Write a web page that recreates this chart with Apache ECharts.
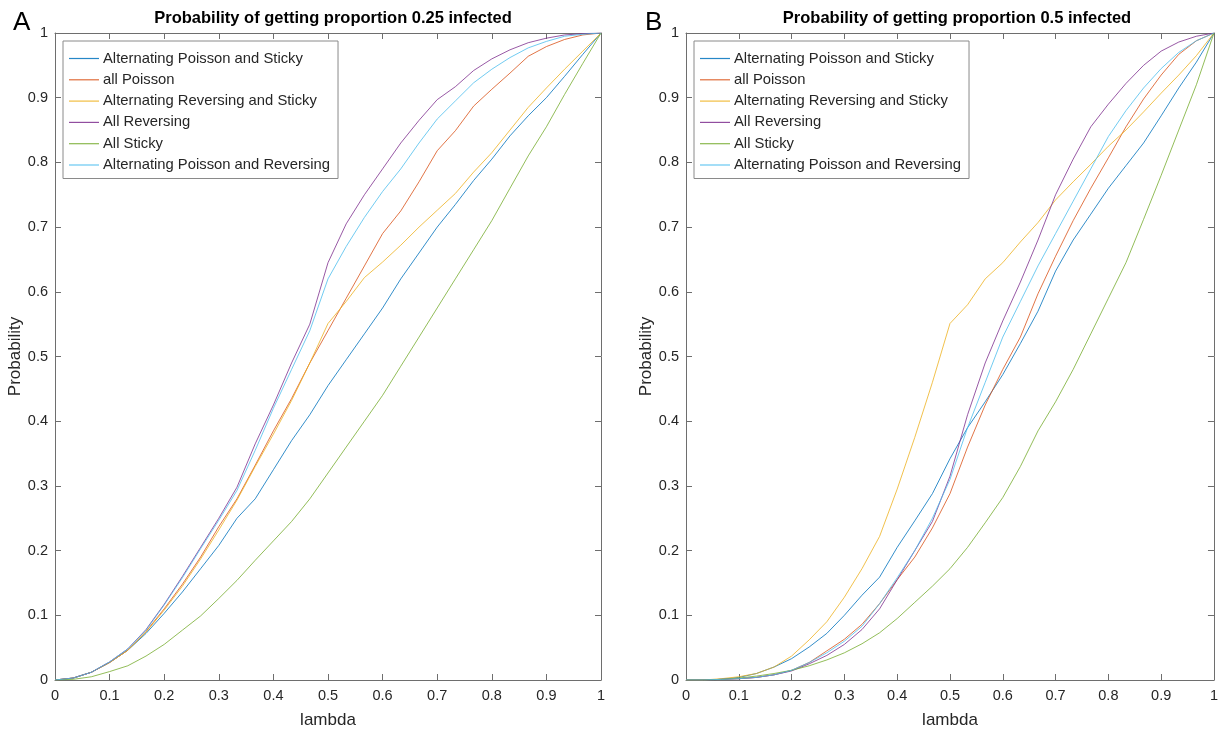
<!DOCTYPE html>
<html><head><meta charset="utf-8">
<script src="https://cdn.jsdelivr.net/npm/echarts@6/dist/echarts.min.js"></script>
<style>html,body{margin:0;padding:0;background:#fff}#c{width:1221px;height:734px}</style>
</head><body><div id="c"></div>
<script>
const lambda = [0,0.0333,0.0667,0.1,0.1333,0.1667,0.2,0.2333,0.2667,0.3,0.3333,0.3667,0.4,0.4333,0.4667,0.5,0.5333,0.5667,0.6,0.6333,0.6667,0.7,0.7333,0.7667,0.8,0.8333,0.8667,0.9,0.9333,0.9667,1];
const seriesNames = ['Alternating Poisson and Sticky','all Poisson','Alternating Reversing and Sticky','All Reversing','All Sticky','Alternating Poisson and Reversing'];
const colors = ['#0072BD','#D95319','#EDB120','#7E2F8E','#77AC30','#4DBEEE'];
const titlesAB = ['Probability of getting proportion 0.25 infected','Probability of getting proportion 0.5 infected'];
const panelLetters = ['A','B'];

// Panel A (proportion 0.25)
const A_altPoissonSticky = [0,0.003,0.012,0.027,0.046,0.072,0.103,0.136,0.172,0.208,0.25,0.28,0.325,0.37,0.41,0.455,0.495,0.535,0.575,0.62,0.66,0.7,0.735,0.772,0.805,0.841,0.872,0.9,0.933,0.967,1];
const A_allPoisson = [0,0.003,0.012,0.027,0.046,0.075,0.11,0.148,0.19,0.237,0.28,0.332,0.385,0.435,0.49,0.54,0.59,0.64,0.69,0.725,0.77,0.818,0.849,0.887,0.913,0.938,0.964,0.979,0.99,0.997,1];
const A_altRevSticky = [0,0.003,0.012,0.027,0.046,0.074,0.108,0.145,0.187,0.232,0.278,0.33,0.38,0.432,0.49,0.551,0.585,0.622,0.646,0.672,0.7,0.726,0.752,0.785,0.815,0.85,0.885,0.915,0.944,0.972,1];
const A_allRev = [0,0.003,0.012,0.028,0.048,0.078,0.117,0.16,0.205,0.25,0.298,0.365,0.425,0.49,0.55,0.645,0.705,0.75,0.79,0.83,0.865,0.897,0.917,0.942,0.96,0.974,0.985,0.992,0.997,0.999,1];
const A_allSticky = [0,0.001,0.005,0.013,0.022,0.037,0.055,0.077,0.099,0.126,0.154,0.185,0.215,0.245,0.28,0.32,0.36,0.4,0.44,0.485,0.53,0.575,0.62,0.665,0.71,0.76,0.81,0.855,0.905,0.953,1];
const A_altPoissonRev = [0,0.003,0.012,0.028,0.048,0.077,0.116,0.158,0.203,0.247,0.293,0.355,0.42,0.48,0.54,0.62,0.67,0.715,0.755,0.79,0.83,0.867,0.895,0.923,0.944,0.962,0.977,0.987,0.995,0.998,1];

// Panel B (proportion 0.5)
const B_altPoissonSticky = [0,0,0.001,0.004,0.01,0.02,0.033,0.051,0.072,0.1,0.131,0.159,0.205,0.246,0.288,0.342,0.39,0.43,0.472,0.52,0.57,0.632,0.68,0.72,0.76,0.795,0.83,0.872,0.915,0.955,1];
const B_allPoisson = [0,0,0.001,0.002,0.004,0.008,0.015,0.027,0.045,0.063,0.086,0.118,0.155,0.19,0.235,0.288,0.36,0.425,0.48,0.53,0.597,0.655,0.71,0.76,0.807,0.855,0.898,0.935,0.967,0.988,1];
const B_altRevSticky = [0,0,0.002,0.005,0.01,0.02,0.037,0.062,0.09,0.128,0.172,0.222,0.295,0.375,0.46,0.551,0.58,0.62,0.645,0.677,0.707,0.742,0.77,0.797,0.825,0.85,0.878,0.907,0.935,0.965,1];
const B_allRev = [0,0,0.001,0.002,0.004,0.008,0.014,0.025,0.038,0.055,0.078,0.11,0.155,0.2,0.245,0.315,0.41,0.49,0.555,0.615,0.68,0.75,0.805,0.855,0.89,0.922,0.95,0.972,0.986,0.995,1];
const B_allSticky = [0,0,0.001,0.003,0.006,0.01,0.015,0.022,0.031,0.042,0.056,0.073,0.095,0.12,0.145,0.172,0.205,0.243,0.282,0.33,0.385,0.43,0.48,0.535,0.59,0.645,0.712,0.78,0.85,0.92,1];
const B_altPoissonRev = [0,0,0.001,0.002,0.004,0.008,0.015,0.027,0.042,0.06,0.083,0.118,0.158,0.2,0.25,0.31,0.39,0.46,0.53,0.585,0.64,0.69,0.74,0.79,0.84,0.88,0.915,0.945,0.97,0.988,1];

const panelData = [
  [A_altPoissonSticky, A_allPoisson, A_altRevSticky, A_allRev, A_allSticky, A_altPoissonRev],
  [B_altPoissonSticky, B_allPoisson, B_altRevSticky, B_allRev, B_allSticky, B_altPoissonRev]
];

const FONT = 'Liberation Sans';
const axisColor = '#6e6e6e';
const textColor = '#262626';
const grids = [
  {left:55, top:33, width:546, height:653},
  {left:686, top:33, width:532, height:653}
];

const xAxes = [], yAxes = [], series = [], legends = [], titles = [];
grids.forEach((g, gi) => {
  const common = {type:'value', min:0, max:1, interval:0.1, gridIndex:gi,
    axisLine:{show:true, onZero:false, lineStyle:{color:axisColor, width:1}},
    axisTick:{show:true, inside:true, length:6, lineStyle:{color:axisColor}},
    splitLine:{show:false}};
  xAxes.push(Object.assign({}, common, {position:'bottom', name:'lambda', nameLocation:'middle', nameGap:32,
    nameTextStyle:{fontFamily:FONT, fontSize:17, color:textColor},
    axisLabel:{fontFamily:FONT, fontSize:14.5, color:textColor, margin:8}}));
  xAxes.push(Object.assign({}, common, {position:'top', axisLabel:{show:false}}));
  yAxes.push(Object.assign({}, common, {position:'left', name:'Probability', nameLocation:'middle', nameGap:29,
    nameTextStyle:{fontFamily:FONT, fontSize:17, color:textColor},
    axisLabel:{fontFamily:FONT, fontSize:14.5, color:textColor, margin:7}}));
  yAxes.push(Object.assign({}, common, {position:'right', axisLabel:{show:false}}));
  panelData[gi].forEach((vals, si) => {
    series.push({name:seriesNames[si], type:'line', xAxisIndex:gi*2, yAxisIndex:gi*2,
      symbol:'none', showSymbol:false, smooth:false, animation:false,
      lineStyle:{color:colors[si], width:1, opacity:0.8}, itemStyle:{color:colors[si]},
      data: lambda.map((x, i) => [x, vals[i]])});
  });
  legends.push({orient:'vertical', left: g.left + 8, top: 41,
    data: seriesNames.map((n, i) => ({name:n, icon:'rect',
      itemStyle:{color:colors[i], borderWidth:0, borderColor:'transparent', opacity:0.85}})),
    itemWidth:30, itemHeight:1.2, itemGap:6.3, padding:[10,8,6,6],
    itemStyle:{borderWidth:0},
    borderColor:'#8a8a8a', borderWidth:1, backgroundColor:'#fff',
    selectedMode:false,
    textStyle:{fontFamily:FONT, fontSize:14.8, lineHeight:15, color:textColor, padding:[0,0,0,-1]}});
  titles.push({text:titlesAB[gi], left: g.left + g.width/2, top: 5, textAlign:'center',
    textStyle:{fontFamily:FONT, fontSize:16.5, fontWeight:'bold', color:'#000'}});
  titles.push({text:panelLetters[gi], left: gi===0 ? 8 : 640, top: 5,
    textStyle:{fontFamily:FONT, fontSize:26, fontWeight:'normal', color:'#000'}});
});

const chart = echarts.init(document.getElementById('c'), null, {renderer:'canvas'});
chart.setOption({
  animation:false,
  backgroundColor:'#fff',
  title: titles,
  grid: grids,
  legend: legends,
  xAxis: xAxes,
  yAxis: yAxes,
  series: series
});
</script></body></html>
